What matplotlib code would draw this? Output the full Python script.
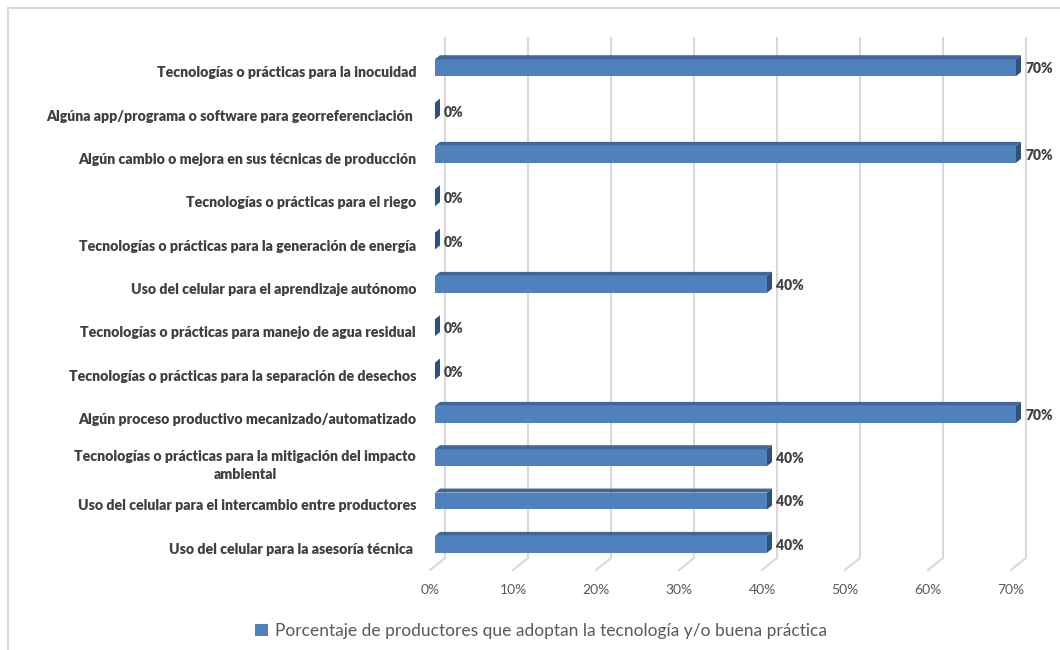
import numpy as np
import matplotlib
matplotlib.use("Agg")
import matplotlib.pyplot as plt
from matplotlib.patches import Polygon, Rectangle
from matplotlib.transforms import IdentityTransform, ScaledTranslation

# ---------- datos ----------
CATEGORIAS = [
    "Tecnologías o prácticas para la inocuidad",
    "Algúna app/programa o software para georreferenciación ",
    "Algún cambio o mejora en sus técnicas de producción",
    "Tecnologías o prácticas para el riego",
    "Tecnologías o prácticas para la generación de energía",
    "Uso del celular para el aprendizaje autónomo",
    "Tecnologías o prácticas para manejo de agua residual",
    "Tecnologías o prácticas para la separación de desechos",
    "Algún proceso productivo mecanizado/automatizado",
    "Tecnologías o prácticas para la mitigación del impacto\nambiental",
    "Uso del celular para el intercambio entre productores",
    "Uso del celular para la asesoría técnica ",
]
PORCENTAJES = [0.70, 0.0, 0.70, 0.0, 0.0, 0.40, 0.0, 0.0, 0.70, 0.40, 0.40, 0.40]
TICKS_X = [0.0, 0.1, 0.2, 0.3, 0.4, 0.5, 0.6, 0.7]
SERIE = "Porcentaje de productores que adoptan la tecnología y/o buena práctica"

# ---------- estilo ----------
FUENTE = ["Lato", "DejaVu Sans"]
AZUL = "#4f81bd"
AZUL_TAPA = "#3f6797"
AZUL_LADO = "#2f5180"
GRIS_REJILLA = "#d9d9d9"
GRIS_TEXTO = "#595959"
GRIS_ETIQ = "#404040"

W, H, DPI = 1060, 650, 100
PROF_X, PROF_Y = 15.0, 12.0   # desplazamiento (px) del plano del fondo
ALTO_BARRA = 0.39

plt.rcParams["font.family"] = FUENTE

fig = plt.figure(figsize=(W / DPI, H / DPI), dpi=DPI)
# plano frontal del gráfico en píxeles: x 430..1011, y 50..570 (desde arriba)
ax = fig.add_axes([430 / W, (H - 570) / H, 581 / W, 520 / H])
n = len(CATEGORIAS)
y = np.arange(n)
ax.set_xlim(0, 0.7)
ax.set_ylim(n - 0.5, -0.5)
for s in ax.spines.values():
    s.set_visible(False)
ax.set_facecolor("none")

ident = IdentityTransform()


def pto(xv, yv, d):
    """Coordenadas de pantalla de (xv, yv) a profundidad d (0 frente, 1 fondo)."""
    px, py = ax.transData.transform((xv, yv))
    return (px + d * PROF_X, py + d * PROF_Y)


# rejilla del fondo y del piso
for t in TICKS_X:
    a = pto(t, n - 0.5, 1)
    b = pto(t, -0.5, 1)
    c = pto(t, n - 0.5, 0)
    ax.add_line(plt.Line2D([a[0], b[0]], [a[1], b[1]], transform=ident,
                           color=GRIS_REJILLA, lw=1.5, zorder=0, clip_on=False))
    ax.add_line(plt.Line2D([c[0], a[0]], [c[1], a[1]], transform=ident,
                           color=GRIS_REJILLA, lw=1.5, zorder=0, clip_on=False))

# barras: cara frontal
d0, d1 = 1 / 3, 2 / 3
barras = ax.barh(y, PORCENTAJES, height=ALTO_BARRA, color=AZUL, label=SERIE, zorder=2)
desp = ScaledTranslation(d0 * PROF_X / DPI, d0 * PROF_Y / DPI, fig.dpi_scale_trans)
for r in barras:
    r.set_transform(ax.transData + desp)
    r.set_clip_on(False)

# caras superior y lateral
for yi, v in zip(y, PORCENTAJES):
    arriba, abajo = yi - ALTO_BARRA / 2, yi + ALTO_BARRA / 2
    tapa = [pto(0, arriba, d0), pto(v, arriba, d0), pto(v, arriba, d1), pto(0, arriba, d1)]
    lado = [pto(v, arriba, d0), pto(v, abajo, d0), pto(v, abajo, d1), pto(v, arriba, d1)]
    ax.add_patch(Polygon(tapa, closed=True, transform=ident, facecolor=AZUL_TAPA,
                         edgecolor="none", zorder=3, clip_on=False))
    ax.add_patch(Polygon(lado, closed=True, transform=ident, facecolor=AZUL_LADO,
                         edgecolor="none", zorder=3, clip_on=False))
    ax.annotate(f"{v:.0%}", (v, yi), xytext=(14, 3), textcoords="offset pixels",
                ha="left", va="center", fontsize=10, fontweight="heavy",
                color=GRIS_ETIQ, zorder=4)

# ejes
ax.set_yticks(y)
ax.set_yticklabels(CATEGORIAS, fontsize=10.2, fontweight="heavy", color=GRIS_ETIQ,
                   multialignment="center", linespacing=1.45)
ax.set_xticks(TICKS_X)
ax.set_xticklabels([f"{t:.0%}" for t in TICKS_X], fontsize=10, color=GRIS_TEXTO)
ax.tick_params(axis="y", length=0, pad=10)
ax.tick_params(axis="x", length=0, pad=10)

# leyenda
fig.legend(handles=[barras], labels=[SERIE], loc="center",
           bbox_to_anchor=(541 / W, 1 - 631 / H), frameon=False,
           fontsize=12.5, labelcolor=GRIS_TEXTO, handlelength=0.7,
           handleheight=0.7, handletextpad=0.4)

# marco del área del gráfico
fig.patches.append(Rectangle((8 / W, -0.05), 1.1, 1 - 8 / H + 0.05,
                             transform=fig.transFigure, fill=False,
                             edgecolor=GRIS_REJILLA, lw=1.5))

fig.savefig("out.png", dpi=DPI, facecolor="white")
